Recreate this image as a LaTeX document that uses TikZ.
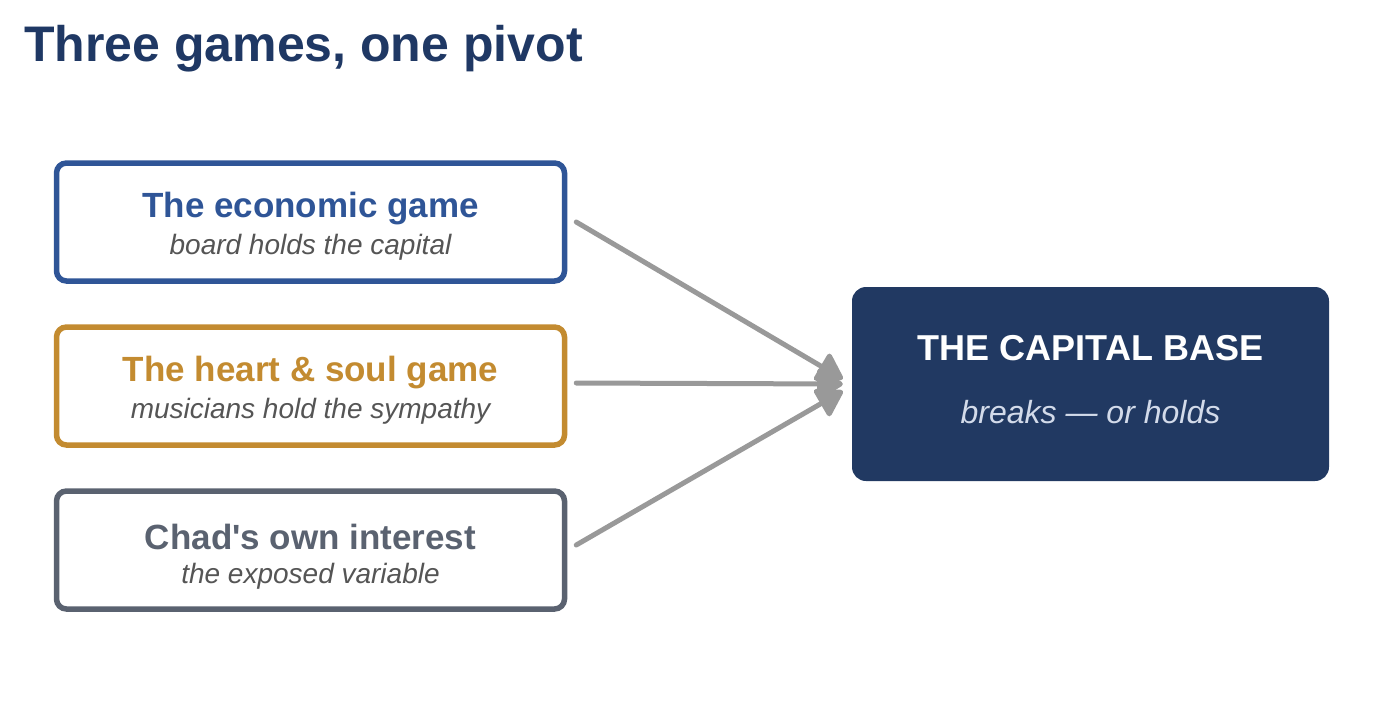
\documentclass[tikz,border=0pt]{standalone}
\usepackage{fontspec}
\setmainfont{Liberation Sans}
\usetikzlibrary{arrows.meta,calc}
\definecolor{titlec}{HTML}{1F3864}
\definecolor{ecoc}{HTML}{2F5597}
\definecolor{heartc}{HTML}{C38B30}
\definecolor{chadc}{HTML}{5A6270}
\definecolor{navy}{HTML}{213962}
\definecolor{subc}{HTML}{555555}
\definecolor{arrc}{HTML}{999999}
\definecolor{lightc}{HTML}{D3DBEA}
\tikzset{
  gamebox/.style={draw, line width=5.5pt, rounded corners=10pt, minimum width=508pt, minimum height=118pt, fill=white},
  capbox/.style={fill=navy, rounded corners=14pt, minimum width=477pt, minimum height=194pt},
  arr/.style={draw=arrc, line width=5pt, -{Triangle[round, length=20pt, width=24pt, scale=1.4]}, line cap=round},
  ttl/.style={font=\bfseries\fontsize{35}{40}\selectfont},
  sub/.style={font=\itshape\fontsize{28}{32}\selectfont, text=subc},
}
\begin{document}
\begin{tikzpicture}[x=1pt,y=-1pt]
\useasboundingbox (0,0) rectangle (1381,716);
\node[anchor=base west, text=titlec, font=\bfseries\fontsize{50}{56}\selectfont, inner sep=0] (title) at (24,61) {Three games, one pivot};

\node[gamebox, draw=ecoc] (eco) at (310.5,222) {};
\node[ttl, text=ecoc] (ecot) at (310.5,209) {The economic game};
\node[sub] (ecos) at (310.5,247) {board holds the capital};

\node[gamebox, draw=heartc] (heart) at (310.5,386) {};
\node[ttl, text=heartc] (heartt) at (310.5,373) {The heart \& soul game};
\node[sub] (hearts) at (310.5,411) {musicians hold the sympathy};

\node[gamebox, draw=chadc] (chad) at (310.5,550) {};
\node[ttl, text=chadc] (chadt) at (310.5,537) {Chad\textquotesingle s own interest};
\node[sub] (chads) at (310.5,576) {the exposed variable};

\node[capbox] (cap) at (1090.5,384) {};
\node[text=white, font=\bfseries\fontsize{36}{40}\selectfont] (capt) at (1090.5,348) {THE CAPITAL BASE};
\node[text=lightc, font=\itshape\fontsize{32}{36}\selectfont] (caps) at (1090.5,412) {breaks — or holds};

\coordinate (h1) at ($(cap.west)+(-9,-5)$);
\coordinate (h2) at ($(cap.west)+(-9,0)$);
\coordinate (h3) at ($(cap.west)+(-9,7)$);
\draw[arr] ($(eco.east)+(9,0)$) -- (h1);
\draw[arr] ($(heart.east)+(9,-3)$) -- (h2);
\draw[arr] ($(chad.east)+(9,-5)$) -- (h3);
\end{tikzpicture}
\end{document}
